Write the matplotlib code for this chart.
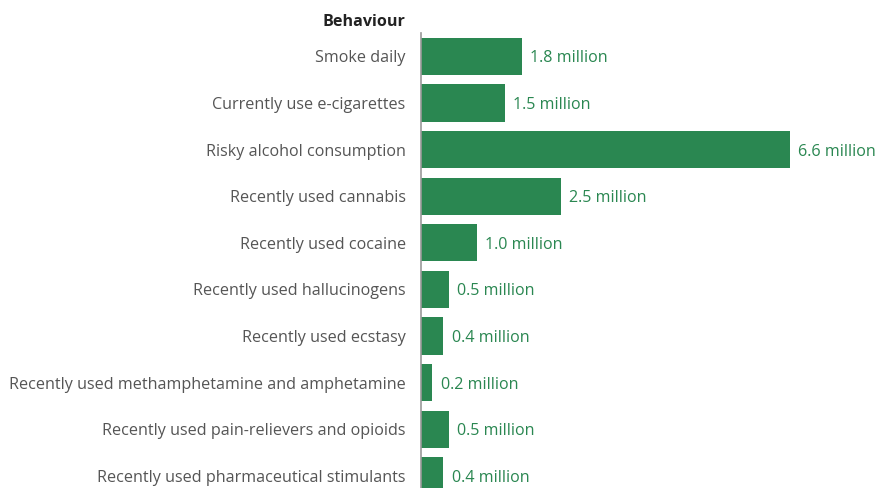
import matplotlib.pyplot as plt

plt.rcParams['font.family'] = ['Open Sans', 'DejaVu Sans']

behaviours = [
    'Smoke daily',
    'Currently use e-cigarettes',
    'Risky alcohol consumption',
    'Recently used cannabis',
    'Recently used cocaine',
    'Recently used hallucinogens',
    'Recently used ecstasy',
    'Recently used methamphetamine and amphetamine',
    'Recently used pain-relievers and opioids',
    'Recently used pharmaceutical stimulants',
]
millions = [1.8, 1.5, 6.6, 2.5, 1.0, 0.5, 0.4, 0.2, 0.5, 0.4]

green = '#2a8751'
fs = 11.6

fig = plt.figure(figsize=(8.75, 4.88), dpi=100)
ax = fig.add_axes([421 / 875, 0, 391 / 875, 455 / 488])

pos = list(range(len(behaviours)))
ax.barh(pos, millions, height=0.8, color=green)

# value labels just past the bar ends
for y, v in zip(pos, millions):
    ax.text(v + 0.15, y, f'{v:.1f} million', va='center_baseline', ha='left',
            fontsize=fs, color=green, clip_on=False)

ax.set_xlim(0, 7)
ax.set_ylim(9.26, -0.5)
ax.set_yticks(pos)
ax.set_yticklabels(behaviours, fontsize=fs, color='#555555', va='center_baseline')
ax.tick_params(axis='y', length=0, pad=11)
ax.set_xticks([])

for side in ['top', 'right', 'bottom']:
    ax.spines[side].set_visible(False)
ax.spines['left'].set_color('#999999')
ax.spines['left'].set_linewidth(1.2)

fig.text(405 / 875, 1 - 20 / 488, 'Behaviour', ha='right', va='center_baseline',
         fontsize=fs, fontweight='bold', color='#222222')

fig.savefig('out.png', dpi=100)
